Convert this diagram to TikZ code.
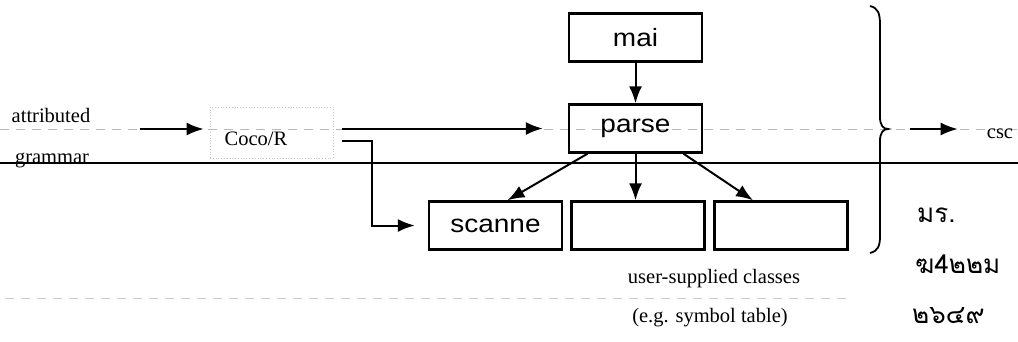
\documentclass[tikz,border=0pt]{standalone}
\usepackage{graphicx}
\usepackage{fontspec}
\setmainfont{Liberation Serif}
\newfontfamily\boxfont{Liberation Sans}
\newfontfamily\thaifont[Script=Thai]{Loma}
\usetikzlibrary{arrows.meta}

% class names are set a little wider than the plain font
\newcommand{\wideword}[1]{\scalebox{1.12}[1]{#1}}

\tikzset{
  cls/.style={draw, line width=2.4pt, minimum width=133pt, minimum height=48pt,
              inner sep=0pt, font=\boxfont\fontsize{25}{29}\selectfont},
  flow/.style={line width=2pt, -{Latex[length=17pt,width=13pt]}},
  faint/.style={gray!55, line width=0.8pt, dash pattern=on 9pt off 7pt},
  ghost/.style={draw=gray!45, dotted, line width=0.8pt, inner sep=0pt},
  lbl/.style={font=\fontsize{20.5}{24}\selectfont, inner sep=0pt, anchor=base},
  hand/.style={font=\thaifont\fontsize{26}{30}\selectfont, inner sep=0pt, anchor=base west}
}

\begin{document}
\begin{tikzpicture}[x=1pt, y=-1pt]
\useasboundingbox (0,0) rectangle (1018,341);

% faint guide lines
\draw[faint] (0,129) -- (1018,129);
\draw[faint, gray!40] (5,298) -- (850,298);
\draw[line width=1.6pt] (0,163) -- (1018,163);

% input side
\node[lbl] (attr) at (51,122) {attributed};
\node[lbl] (gram) at (52,163) {grammar};
\node[ghost, minimum width=123pt, minimum height=51pt] (coco) at (271.5,132.5) {};
\node[lbl] (cocolbl) at (256,145) {Coco/R};

% generated classes
\node[cls] (mai) at (635.5,37.5) {\wideword{mai}};
\node[cls] (parse) at (635.5,128.5) {\wideword{parse}};
\node[cls] (scan) at (495.5,225.5) {\wideword{scanne}};
\node[cls] (user1) at (638,225.5) {};
\node[cls] (user2) at (781,225.5) {};

\node[lbl] (uscl) at (714,283) {user-supplied classes};
\node[lbl] (symt) at (710,322) {(e.g. symbol table)};

% connectors
\coordinate (inA) at (140,129);
\draw[flow] (inA) -- ([xshift=-6pt]coco.west |- inA);
\draw[flow] ([xshift=9pt]coco.east |- parse.west) -- ([xshift=-25pt]parse.west);
\coordinate (cocoOut) at (342,141);
\draw[flow] (cocoOut) -- ++(30,0) |- ([xshift=-13pt]scan.west);
\draw[flow] (mai) -- (parse);
\draw[flow] ([xshift=-48pt]parse.south) -- ([xshift=12pt]scan.north);
\draw[flow] (parse.south) -- (parse.south |- user1.north);
\draw[flow] ([xshift=48pt]parse.south) -- ([xshift=-28pt]user2.north);

% brace gathering the classes
\draw[line width=1.8pt]
  (870,6) .. controls (878,8) and (880,13) .. (880,25)
  -- (880,117) .. controls (880,125) and (883,129) .. (888,129)
  .. controls (883,129) and (880,133) .. (880,141)
  -- (880,236) .. controls (880,246) and (878,251) .. (870,253);
\coordinate (brace) at (888,129);

% output
\node[lbl] (csc) at (1000,138) {csc};
\draw[flow] ([xshift=22pt]brace) -- ([xshift=-29pt]csc.west |- brace);

% handwritten note
\node[hand] (note1) at (917,222) {มร.};
\node[hand] (note2) at (915,273) {ฆ4๒๒ม};
\node[hand] (note3) at (912,323) {๒๖๔๙};
\end{tikzpicture}
\end{document}
